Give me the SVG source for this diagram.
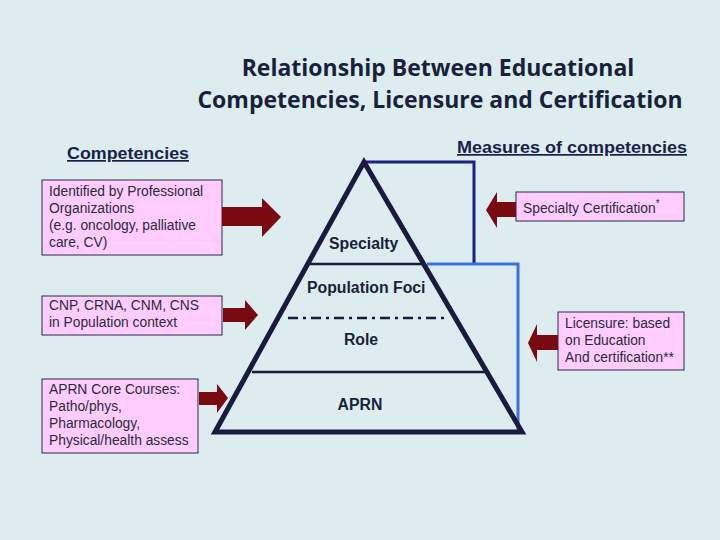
<svg xmlns="http://www.w3.org/2000/svg" width="720" height="540" viewBox="0 0 720 540">
<style>
.title{font-family:"Open Sans","Liberation Sans",sans-serif;font-weight:bold;font-size:23px;fill:#1a1f3a;text-anchor:middle}
.head{font-family:"Liberation Sans",Arial,sans-serif;font-weight:bold;font-size:17px;fill:#1a1f4a;text-decoration:underline}
.box{fill:#ffccff;stroke:#2a2a40;stroke-width:1}
.bt{font-family:"Liberation Sans",Arial,sans-serif;font-size:13.8px;fill:#2a2a3a}
.lbl{font-family:"Liberation Sans",Arial,sans-serif;font-weight:bold;font-size:15.8px;fill:#1a1f3a}
.arr{fill:#7a0a12}
</style>
<rect width="720" height="540" fill="#dcecef"/>
<text class="title" x="438" y="76">Relationship Between Educational</text>
<text class="title" x="440" y="108">Competencies, Licensure and Certification</text>
<text class="head" x="67" y="159" textLength="122" lengthAdjust="spacingAndGlyphs">Competencies</text>
<text class="head" x="457" y="153" textLength="230" lengthAdjust="spacingAndGlyphs">Measures of competencies</text>

<g id="pyramid">
<polyline points="365,162 474,162 474,264" fill="none" stroke="#1a237e" stroke-width="3"/>
<polyline points="427,264 518,264 518,432" fill="none" stroke="#3f6fdc" stroke-width="3"/>
<polygon points="364,162 215,432 522,432" fill="none" stroke="#1a1a40" stroke-width="5" stroke-linejoin="miter"/>
<line x1="310" y1="264" x2="423" y2="264" stroke="#1a1a40" stroke-width="2.5"/>
<line x1="288" y1="318" x2="447" y2="318" stroke="#1a1a40" stroke-width="2.5" stroke-dasharray="10,5,3,5"/>
<line x1="252" y1="372" x2="485" y2="372" stroke="#1a1a40" stroke-width="2.5"/>
<text class="lbl" x="329" y="249">Specialty</text>
<text class="lbl" x="307" y="293">Population Foci</text>
<text class="lbl" x="361" y="345" text-anchor="middle">Role</text>
<text class="lbl" x="360" y="410" text-anchor="middle">APRN</text>
</g>

<g id="box-specialty-orgs">
<rect class="box" x="42" y="180" width="180" height="75"/>
<text class="bt" x="49" y="196">Identified by Professional</text>
<text class="bt" x="49" y="213">Organizations</text>
<text class="bt" x="49" y="230">(e.g. oncology, palliative</text>
<text class="bt" x="49" y="247">care, CV)</text>
</g>
<g id="box-population">
<rect class="box" x="42" y="296" width="180" height="39"/>
<text class="bt" x="49" y="310">CNP, CRNA, CNM, CNS</text>
<text class="bt" x="49" y="327">in Population context</text>
</g>
<g id="box-core">
<rect class="box" x="42" y="379" width="156" height="74"/>
<text class="bt" x="49" y="394">APRN Core Courses:</text>
<text class="bt" x="49" y="411">Patho/phys,</text>
<text class="bt" x="49" y="428">Pharmacology,</text>
<text class="bt" x="49" y="445">Physical/health assess</text>
</g>
<g id="box-cert">
<rect class="box" x="516" y="192" width="168" height="29"/>
<text class="bt" x="523" y="213">Specialty Certification<tspan dy="-6" font-size="10">*</tspan></text>
</g>
<g id="box-licensure">
<rect class="box" x="558" y="312" width="126" height="58"/>
<text class="bt" x="565" y="328">Licensure: based</text>
<text class="bt" x="565" y="345">on Education</text>
<text class="bt" x="565" y="362">And certification**</text>
</g>

<g id="connectors">
<polygon class="arr" points="222,207 262,207 262,198 281,217 262,237 262,226 222,226"/>
<polygon class="arr" points="223,308 245,308 245,300 258,315 245,330 245,322 223,322"/>
<polygon class="arr" points="199,392 217,392 217,384 228,398 217,413 217,405 199,405"/>
<polygon class="arr" points="516,202 497,202 497,192 486,210 497,228 497,217 516,217"/>
<polygon class="arr" points="558,335 537,335 537,324 528,343 537,362 537,350 558,350"/>
</g>
</svg>
